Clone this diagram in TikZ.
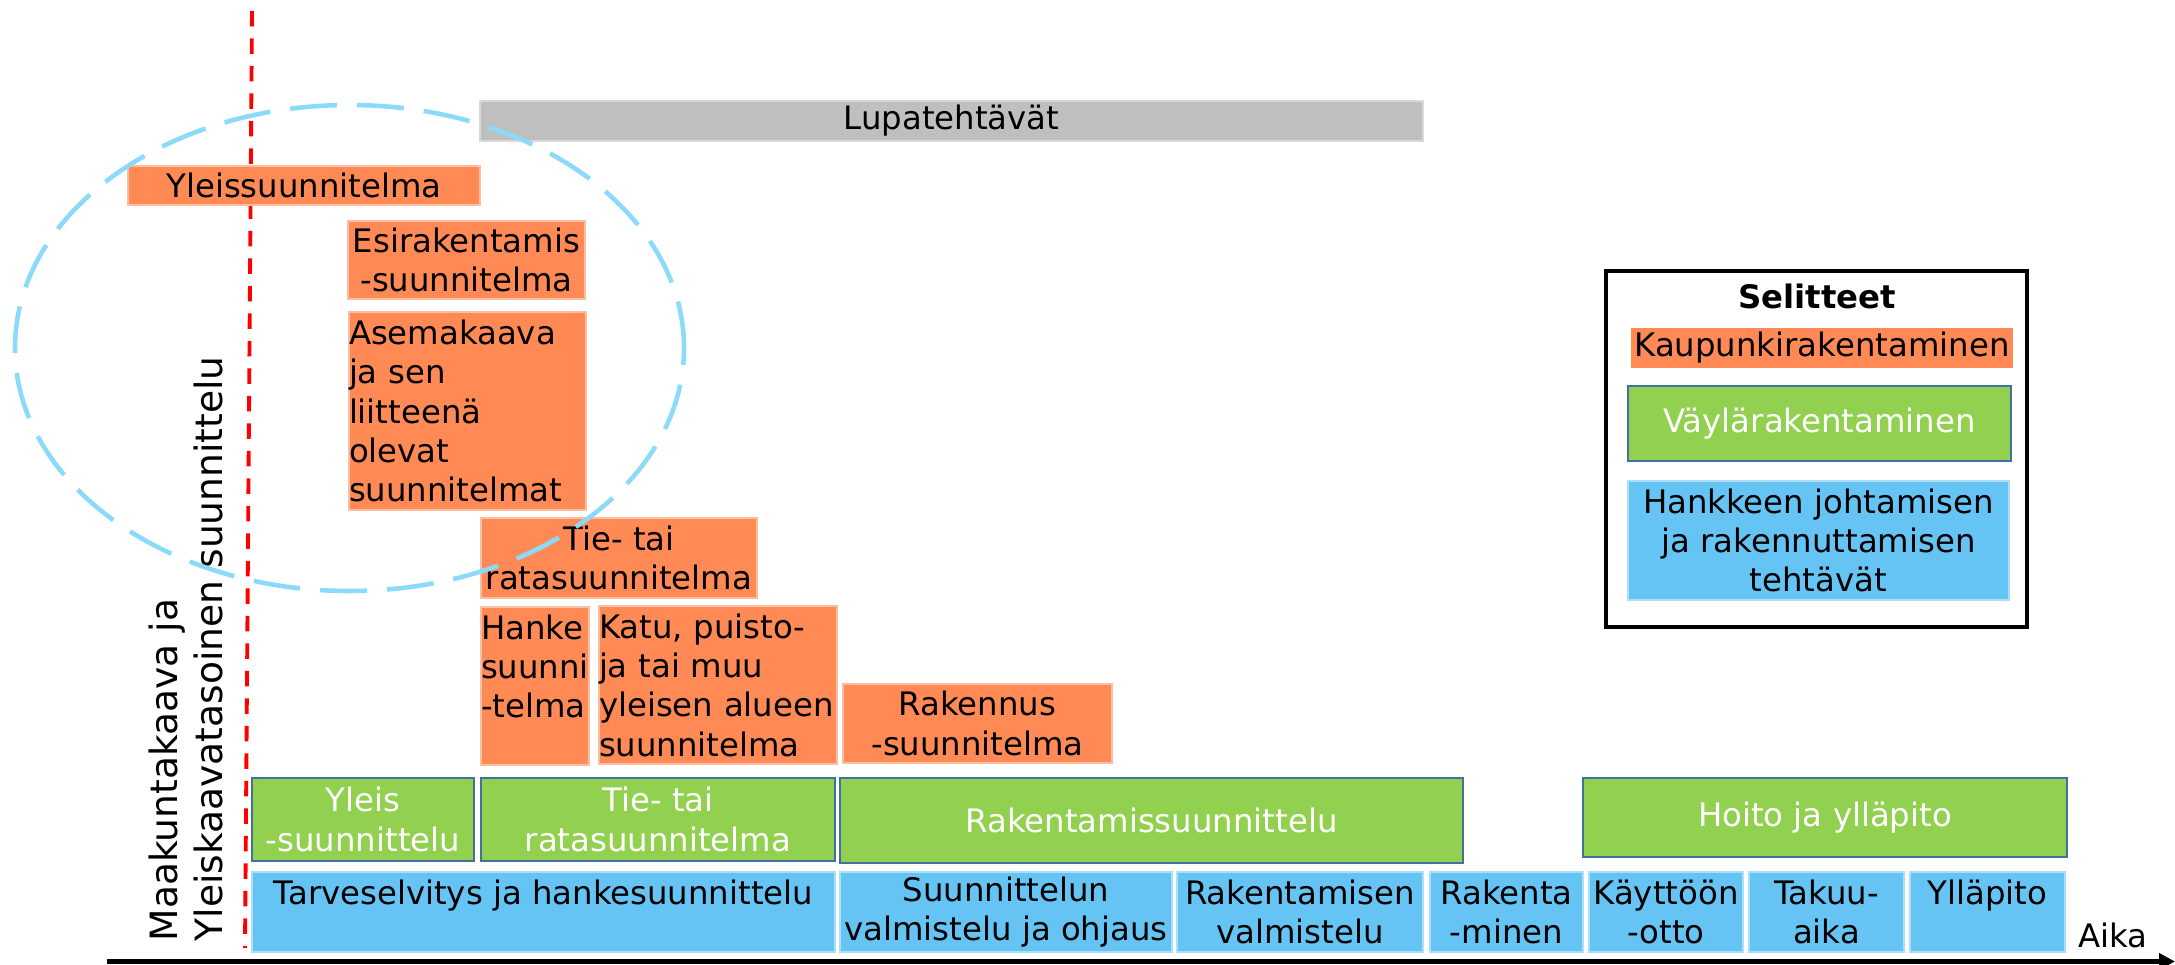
\documentclass[tikz,border=0pt]{standalone}
\usepackage{fontspec}
\setmainfont{DejaVu Sans}
\usepackage{tikz}
\usetikzlibrary{arrows.meta}
\definecolor{kaupcolor}{RGB}{255,138,85}
\definecolor{kaupborder}{RGB}{250,190,160}
\definecolor{vaylacolor}{RGB}{146,208,80}
\definecolor{vaylaborder}{RGB}{65,113,156}
\definecolor{hankecolor}{RGB}{102,196,245}
\definecolor{hankeborder}{RGB}{170,222,250}
\definecolor{lupacolor}{RGB}{191,191,191}
\definecolor{kehyscolor}{RGB}{140,218,250}
\newcommand{\boxfont}{\fontsize{9.2}{11.2}\selectfont}

\begin{document}
\begin{tikzpicture}[
  kaupbox/.style={rectangle, draw=kaupborder, line width=0.4pt, fill=kaupcolor,
                  inner sep=0pt, align=center, font=\boxfont},
  vaylabox/.style={rectangle, draw=vaylaborder, line width=0.7pt, fill=vaylacolor,
                   inner sep=0pt, align=center, font=\boxfont, text=white},
  hankebox/.style={rectangle, draw=hankeborder, line width=0.4pt, fill=hankecolor,
                   inner sep=0pt, align=center, font=\boxfont, minimum height=0.80cm},
  lupabox/.style={rectangle, draw=lupacolor!60!white, line width=0.4pt, fill=lupacolor,
                  inner sep=0pt, font=\boxfont},
  selitebox/.style={rectangle, draw=black, line width=1pt, fill=white, inner sep=0pt},
  rajaviiva/.style={red, line width=1.1pt, dash pattern=on 0.155cm off 0.12cm},
  kehys/.style={kehyscolor, line width=1.3pt, dash pattern=on 0.47cm off 0.2cm},
  aikajana/.style={-{Triangle[length=0.16cm, width=0.16cm]}, line width=1.4pt}
]
  \useasboundingbox (0, 0) rectangle (21.75, -9.65);

  % Raja (red dashed line)
  \coordinate (raja0) at (2.52, -0.11);
  \coordinate (raja1) at (2.45, -9.48);
  \draw[rajaviiva] (raja0) -- (raja1);

  % Side text
  \node[rotate=90, anchor=west, align=left, inner sep=0pt,
        font=\fontsize{10.7}{12.8}\selectfont] (kaava) at (1.857, -9.42)
        {Maakuntakaava ja\\Yleiskaavatasoinen suunnittelu};

  % Lupatehtavat
  \node[lupabox, minimum width=9.43cm, minimum height=0.40cm] (lupa) at (9.515, -1.21) {Lupatehtävät};

  % ── Kaupunkirakentaminen ──────────────────────────────────────────────
  \node[kaupbox, minimum width=3.52cm, minimum height=0.39cm] (yleissu) at (3.04, -1.855)
        {Yleissuunnitelma};
  \node[kaupbox, minimum width=2.37cm, minimum height=0.78cm] (esira)   at (4.665, -2.60)
        {Esirakentamis\\-suunnitelma};
  \node[kaupbox, text width=2.37cm, align=left, minimum height=1.98cm] (asema) at (4.675, -4.11)
        {Asemakaava\\ja sen\\liitteenä\\olevat\\suunnitelmat};
  \node[kaupbox, minimum width=2.76cm, minimum height=0.80cm] (tieo)    at (6.19, -5.58)
        {Tie- tai\\ratasuunnitelma};
  \node[kaupbox, text width=1.08cm, align=left, minimum height=1.58cm] (hanke) at (5.35, -6.86)
        {Hanke\\suunni\\-telma\\\mbox{}};
  \node[kaupbox, text width=2.38cm, align=left, minimum height=1.58cm] (katu) at (7.18, -6.85)
        {Katu, puisto-\\ja tai muu\\yleisen alueen\\suunnitelma};
  \node[kaupbox, minimum width=2.69cm, minimum height=0.79cm] (raksu)   at (9.775, -7.235)
        {Rakennus\\-suunnitelma};

  % ── Vaylarakentaminen ─────────────────────────────────────────────────
  \node[vaylabox, minimum width=2.22cm, minimum height=0.83cm] (vyleis) at (3.63, -8.195)
        {Yleis\\-suunnittelu};
  \node[vaylabox, minimum width=3.54cm, minimum height=0.83cm] (vtie)   at (6.58, -8.195)
        {Tie- tai\\ratasuunnitelma};
  \node[vaylabox, minimum width=6.23cm, minimum height=0.85cm] (vrak)   at (11.515, -8.205)
        {Rakentamissuunnittelu};
  \node[vaylabox, minimum width=4.84cm, minimum height=0.79cm] (vhoito) at (18.25, -8.175)
        {Hoito ja ylläpito};

  % ── Hankkeen johtaminen ───────────────────────────────────────────────
  \node[hankebox, minimum width=5.83cm] (tarve)  at (5.435, -9.12)
        {Tarveselvitys ja hankesuunnittelu\\\mbox{}};
  \node[hankebox, minimum width=3.32cm] (suunn)  at (10.06, -9.12)
        {Suunnittelun\\valmistelu ja ohjaus};
  \node[hankebox, minimum width=2.46cm] (rakval) at (13.00, -9.12)
        {Rakentamisen\\valmistelu};
  \node[hankebox, minimum width=1.53cm] (rakmin) at (15.065, -9.12)
        {Rakenta\\-minen};
  \node[hankebox, minimum width=1.54cm] (kaytto) at (16.66, -9.12)
        {Käyttöön\\-otto};
  \node[hankebox, minimum width=1.55cm] (takuu)  at (18.265, -9.12)
        {Takuu-\\aika};
  \node[hankebox, minimum width=1.55cm] (yllap)  at (19.875, -9.12)
        {Ylläpito\\\mbox{}};

  % ── Selitteet ─────────────────────────────────────────────────────────
  \node[selitebox, minimum width=4.21cm, minimum height=3.56cm] (selite) at (18.165, -4.49) {};
  \node[font=\boxfont\bfseries, inner sep=0pt] (otsikko) at (18.17, -2.96) {Selitteet};
  \node[kaupbox, draw=none, minimum width=3.82cm, minimum height=0.40cm] (lkaup) at (18.22, -3.48)
        {Kaupunkirakentaminen};
  \node[vaylabox, minimum width=3.83cm, minimum height=0.75cm] (lvayla) at (18.195, -4.235)
        {Väylärakentaminen};
  \node[hankebox, minimum width=3.81cm, minimum height=1.19cm] (lhanke) at (18.185, -5.405)
        {Hankkeen johtamisen\\ja rakennuttamisen\\tehtävät};

  % Dashed ellipse
  \coordinate (kehyskeski) at (3.495, -3.48);
  \draw[kehys] (kehyskeski) ellipse [x radius=3.345, y radius=2.43];

  % Aika axis
  \coordinate (aika0) at (1.07, -9.615);
  \coordinate (aika1) at (21.75, -9.615);
  \draw[aikajana] (aika0) -- (aika1);
  \node[font=\boxfont, anchor=base, inner sep=0pt] (aika) at (21.13, -9.48) {Aika};

\end{tikzpicture}
\end{document}
